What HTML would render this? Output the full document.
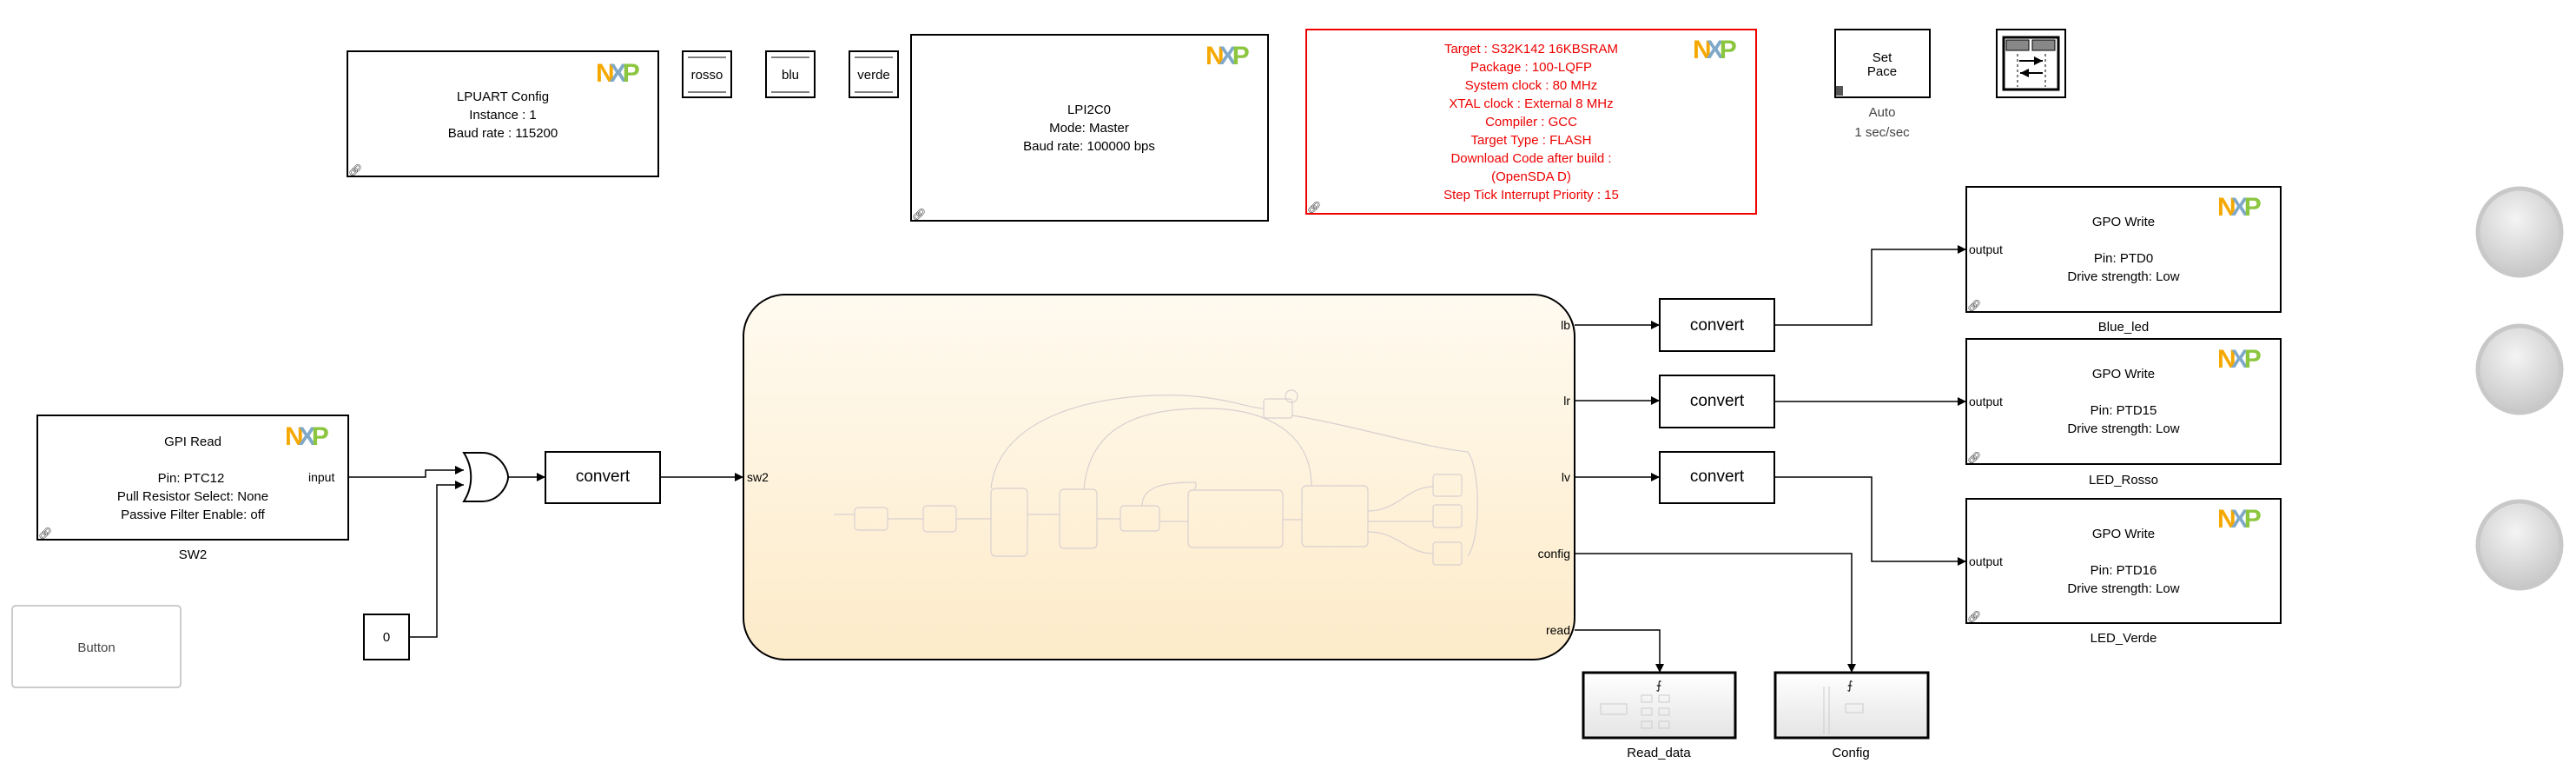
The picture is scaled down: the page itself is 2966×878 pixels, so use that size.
<!DOCTYPE html>
<html><head><meta charset="utf-8"><style>
html,body{margin:0;padding:0;background:#fff;}
svg{display:block;}
text{font-family:"Liberation Sans",sans-serif;}
</style></head><body>
<svg width="2966" height="878" viewBox="0 0 2966 878" xmlns="http://www.w3.org/2000/svg">
<defs>
<linearGradient id="cg" x1="0" y1="0" x2="0" y2="1"><stop offset="0" stop-color="#fffaf0"/><stop offset="1" stop-color="#fdebc9"/></linearGradient>
<linearGradient id="sg" x1="0" y1="0" x2="0" y2="1"><stop offset="0" stop-color="#ffffff"/><stop offset="1" stop-color="#e4e4e4"/></linearGradient>
<radialGradient id="bg" cx="0.45" cy="0.35" r="0.7"><stop offset="0" stop-color="#f4f4f4"/><stop offset="1" stop-color="#c4c4c4"/></radialGradient>
<marker id="ar" viewBox="0 0 10 10" refX="10" refY="5" markerWidth="10" markerHeight="10" markerUnits="userSpaceOnUse" orient="auto"><path d="M0,0L10,5L0,10z" fill="#000"/></marker>
</defs>
<g fill="#fff" stroke="#000" stroke-width="2">
<rect x="400" y="59" width="358" height="144"/>
<rect x="786" y="59" width="56" height="53"/>
<rect x="882" y="59" width="56" height="53"/>
<rect x="978" y="59" width="56" height="53"/>
<rect x="1049" y="40" width="411" height="214"/>
<rect x="43" y="478" width="358" height="143"/>
<rect x="628" y="520" width="132" height="59"/>
<rect x="419" y="707" width="52" height="52"/>
<rect x="1911" y="344" width="132" height="60"/>
<rect x="1911" y="432" width="132" height="60"/>
<rect x="1911" y="520" width="132" height="59"/>
<rect x="2264" y="215" width="362" height="144"/>
<rect x="2264" y="390" width="362" height="144"/>
<rect x="2264" y="574" width="362" height="143"/>
<rect x="2113" y="34" width="109" height="78"/>
<rect x="2299" y="34" width="79" height="78"/>
</g>
<rect x="1504" y="34" width="518" height="212" fill="#fff" stroke="#e00" stroke-width="2"/>
<rect x="14" y="697" width="194" height="94" rx="4" fill="#fff" stroke="#bbb" stroke-width="1.5"/>
<g stroke="#555" stroke-width="1.5">
<line x1="792" y1="66" x2="836" y2="66"/><line x1="792" y1="106" x2="836" y2="106"/>
<line x1="888" y1="66" x2="932" y2="66"/><line x1="888" y1="106" x2="932" y2="106"/>
<line x1="984" y1="66" x2="1028" y2="66"/><line x1="984" y1="106" x2="1028" y2="106"/>
</g>
<rect x="2307" y="43" width="63" height="60" fill="none" stroke="#000" stroke-width="3"/>
<rect x="2310" y="46" width="26" height="12" fill="#888" stroke="#000"/><rect x="2340" y="46" width="26" height="12" fill="#888" stroke="#000"/>
<line x1="2323" y1="62" x2="2323" y2="100" stroke="#000" stroke-dasharray="3,3"/><line x1="2355" y1="62" x2="2355" y2="100" stroke="#000" stroke-dasharray="3,3"/>
<line x1="2325" y1="70" x2="2352" y2="70" stroke="#000" stroke-width="2" marker-end="url(#ar)"/>
<line x1="2352" y1="84" x2="2326" y2="84" stroke="#000" stroke-width="2" marker-end="url(#ar)"/>
<path d="M904,339 H1765 A48,48 0 0 1 1813,387 V711 A48,48 0 0 1 1765,759 H904 A48,48 0 0 1 856,711 V387 A48,48 0 0 1 904,339Z" fill="url(#cg)" stroke="#000" stroke-width="2"/>
<g fill="none" stroke="#d8d0d0" stroke-width="1.2">
<rect x="984" y="584" width="38" height="26" rx="4"/>
<rect x="1063" y="582" width="38" height="30" rx="4"/>
<rect x="1141" y="562" width="42" height="78" rx="5"/>
<rect x="1220" y="563" width="43" height="68" rx="5"/>
<rect x="1290" y="582" width="45" height="29" rx="4"/>
<rect x="1368" y="564" width="109" height="66" rx="5"/>
<rect x="1499" y="559" width="76" height="70" rx="5"/>
<rect x="1455" y="459" width="33" height="22" rx="3"/>
<rect x="1650" y="546" width="33" height="25" rx="3"/>
<rect x="1650" y="581" width="33" height="26" rx="3"/>
<rect x="1650" y="624" width="33" height="26" rx="3"/>
<circle cx="1487" cy="456" r="7"/>
<path d="M960,592H984M1022,597H1063M1101,597H1141M1183,592H1220M1263,597H1290M1335,600H1368M1477,598H1499M1575,600H1650M1575,588C1610,588 1620,560 1650,560M1575,612C1610,612 1620,637 1650,637"/>
<path d="M1141,562C1150,480 1260,452 1360,455C1410,457 1440,470 1455,470"/>
<path d="M1248,563C1255,480 1330,470 1390,470C1460,470 1510,500 1510,559"/>
<path d="M1315,582C1315,560 1340,555 1375,555C1380,555 1375,564 1375,564"/>
<path d="M1488,478C1560,490 1640,515 1690,520C1705,540 1705,620 1690,640"/>
</g>
<g fill="url(#bg)" stroke="#c8c8c8" stroke-width="5">
<ellipse cx="2901" cy="267" rx="48" ry="50"/>
<ellipse cx="2901" cy="425" rx="48" ry="50"/>
<ellipse cx="2901" cy="627" rx="48" ry="50"/>
</g>
<rect x="1823" y="774" width="175" height="75" fill="url(#sg)" stroke="#000" stroke-width="3"/>
<rect x="2044" y="774" width="176" height="75" fill="url(#sg)" stroke="#000" stroke-width="3"/>
<g stroke="#ccc" fill="none" stroke-width="1"><rect x="1843" y="810" width="30" height="12"/><rect x="1890" y="800" width="12" height="8"/><rect x="1910" y="800" width="12" height="8"/><rect x="1890" y="815" width="12" height="8"/><rect x="1910" y="815" width="12" height="8"/><rect x="1890" y="830" width="12" height="8"/><rect x="1910" y="830" width="12" height="8"/><line x1="2100" y1="790" x2="2100" y2="845"/><line x1="2106" y1="790" x2="2106" y2="845"/><rect x="2125" y="810" width="20" height="10"/></g>
<text x="1910" y="793" font-size="13" text-anchor="middle">⨍</text>
<text x="2130" y="793" font-size="13" text-anchor="middle">⨍</text>
<path d="M534,521 H555 C575,521 585,540 585,549 C585,558 575,577 555,577 H534 C545,560 545,538 534,521Z" fill="#fff" stroke="#000" stroke-width="2"/>
<g fill="none" stroke="#000" stroke-width="1.5">
<path d="M401,549H490V541H534" marker-end="url(#ar)"/>
<path d="M471,733H503V558H534" marker-end="url(#ar)"/>
<path d="M585,549H628" marker-end="url(#ar)"/>
<path d="M760,549H856" marker-end="url(#ar)"/>
<path d="M1813,374H1911" marker-end="url(#ar)"/>
<path d="M1813,461H1911" marker-end="url(#ar)"/>
<path d="M1813,549H1911" marker-end="url(#ar)"/>
<path d="M2043,374H2155V287H2264" marker-end="url(#ar)"/>
<path d="M2043,462H2264" marker-end="url(#ar)"/>
<path d="M2043,549H2155V646H2264" marker-end="url(#ar)"/>
<path d="M1813,637H2132V774" marker-end="url(#ar)"/>
<path d="M1813,725H1911V774" marker-end="url(#ar)"/>
</g>
<g font-size="30" font-weight="bold" font-family="Liberation Sans,sans-serif">
<text x="686" y="94"><tspan fill="#f5a800">N</tspan><tspan fill="#7fa8c9" dx="-6">X</tspan><tspan fill="#8cc63f" dx="-5">P</tspan></text>
<text x="1388" y="74"><tspan fill="#f5a800">N</tspan><tspan fill="#7fa8c9" dx="-6">X</tspan><tspan fill="#8cc63f" dx="-5">P</tspan></text>
<text x="1949" y="67"><tspan fill="#f5a800">N</tspan><tspan fill="#7fa8c9" dx="-6">X</tspan><tspan fill="#8cc63f" dx="-5">P</tspan></text>
<text x="328" y="512"><tspan fill="#f5a800">N</tspan><tspan fill="#7fa8c9" dx="-6">X</tspan><tspan fill="#8cc63f" dx="-5">P</tspan></text>
<text x="2553" y="248"><tspan fill="#f5a800">N</tspan><tspan fill="#7fa8c9" dx="-6">X</tspan><tspan fill="#8cc63f" dx="-5">P</tspan></text>
<text x="2553" y="423"><tspan fill="#f5a800">N</tspan><tspan fill="#7fa8c9" dx="-6">X</tspan><tspan fill="#8cc63f" dx="-5">P</tspan></text>
<text x="2553" y="607"><tspan fill="#f5a800">N</tspan><tspan fill="#7fa8c9" dx="-6">X</tspan><tspan fill="#8cc63f" dx="-5">P</tspan></text>
</g>
<g font-size="13" fill="#333"><text x="401" y="200">🔗︎</text><text x="1050" y="251">🔗︎</text><text x="1505" y="243">🔗︎</text><text x="44" y="618">🔗︎</text><text x="2265" y="356">🔗︎</text><text x="2265" y="531">🔗︎</text><text x="2265" y="714">🔗︎</text></g>
<rect x="2114" y="99" width="8" height="11" fill="#555"/>
<g font-size="15" text-anchor="middle" fill="#000">
<text x="579" y="116">LPUART Config</text><text x="579" y="137">Instance : 1</text><text x="579" y="158">Baud rate : 115200</text>
<text x="814" y="91">rosso</text><text x="910" y="91">blu</text><text x="1006" y="91">verde</text>
<text x="1254" y="131">LPI2C0</text><text x="1254" y="152">Mode: Master</text><text x="1254" y="173">Baud rate: 100000 bps</text>
<g fill="#e00"><text x="1763" y="61">Target : S32K142 16KBSRAM</text><text x="1763" y="82">Package : 100-LQFP</text><text x="1763" y="103">System clock : 80 MHz</text><text x="1763" y="124">XTAL clock : External 8 MHz</text><text x="1763" y="145">Compiler : GCC</text><text x="1763" y="166">Target Type : FLASH</text><text x="1763" y="187">Download Code after build :</text><text x="1763" y="208">(OpenSDA D)</text><text x="1763" y="229">Step Tick Interrupt Priority : 15</text></g>
<text x="2167" y="71">Set</text><text x="2167" y="87">Pace</text>
<text x="2167" y="134" fill="#444">Auto</text><text x="2167" y="157" fill="#444">1 sec/sec</text>
<text x="222" y="513">GPI Read</text><text x="220" y="555">Pin: PTC12</text><text x="222" y="576">Pull Resistor Select: None</text><text x="222" y="597">Passive Filter Enable: off</text>
<text x="222" y="643">SW2</text>
<text x="111" y="750" fill="#444">Button</text>
<text x="445" y="738">0</text>
<text x="694" y="554" font-size="19">convert</text>
<text x="1977" y="380" font-size="19">convert</text><text x="1977" y="467" font-size="19">convert</text><text x="1977" y="554" font-size="19">convert</text>
<text x="2445" y="260">GPO Write</text><text x="2445" y="302">Pin: PTD0</text><text x="2445" y="323">Drive strength: Low</text><text x="2445" y="381">Blue_led</text>
<text x="2445" y="435">GPO Write</text><text x="2445" y="477">Pin: PTD15</text><text x="2445" y="498">Drive strength: Low</text><text x="2445" y="557">LED_Rosso</text>
<text x="2445" y="619">GPO Write</text><text x="2445" y="661">Pin: PTD16</text><text x="2445" y="682">Drive strength: Low</text><text x="2445" y="739">LED_Verde</text>
<text x="1910" y="871">Read_data</text><text x="2131" y="871">Config</text>
</g>
<g font-size="14" fill="#000">
<text x="355" y="554">input</text><text x="860" y="554">sw2</text>
<text x="2267" y="292">output</text><text x="2267" y="467">output</text><text x="2267" y="651">output</text>
<g text-anchor="end"><text x="1808" y="379">lb</text><text x="1808" y="466">lr</text><text x="1808" y="554">lv</text><text x="1808" y="642">config</text><text x="1808" y="730">read</text></g>
</g>
</svg>
</body></html>
